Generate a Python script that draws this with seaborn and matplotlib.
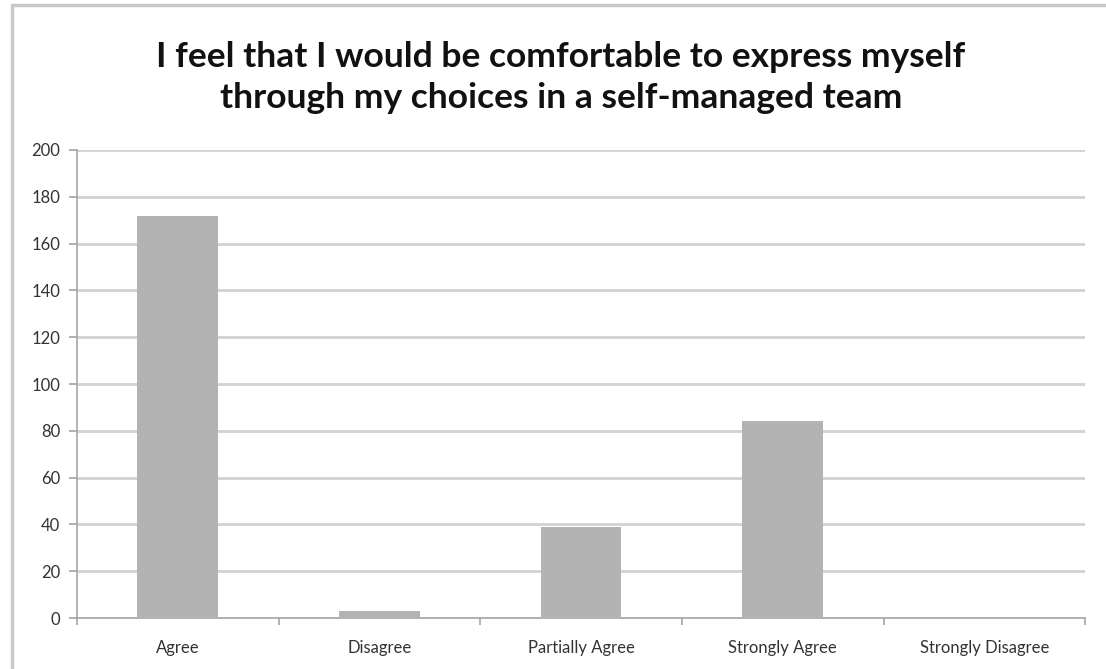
import matplotlib
matplotlib.use("Agg")
import matplotlib.pyplot as plt
from matplotlib.patches import Rectangle
import seaborn as sns
import pandas as pd

categories = ["Agree", "Disagree", "Partially Agree", "Strongly Agree", "Strongly Disagree"]
counts = [172, 3, 39, 84, 0]
y_ticks = [0, 20, 40, 60, 80, 100, 120, 140, 160, 180, 200]
title = "I feel that I would be comfortable to express myself\nthrough my choices in a self-managed team"

sns.set_theme(style="white")
plt.rcParams["font.family"] = ["Lato", "DejaVu Sans"]

df = pd.DataFrame({"response": categories, "count": counts})

fig = plt.figure(figsize=(11.06, 6.69), dpi=100)
ax = fig.add_axes([0.0696, 0.0762, 0.9116, 0.6996])

# light frame around the chart (its right and bottom edges run past the canvas)
fig.patches.append(Rectangle((0.0105, -0.05), 1.1, 1.042, transform=fig.transFigure,
                             fill=False, edgecolor="#c9c9c9", linewidth=2.5, zorder=0))

sns.barplot(data=df, x="response", y="count", color="#b3b3b3", saturation=1,
            width=0.4, linewidth=0, ax=ax, zorder=3)

ax.set_ylim(0, 200)
ax.set_xlim(-0.5, len(categories) - 0.5)
ax.set_yticks(y_ticks)
ax.yaxis.grid(True, color="#d2d2d2", linewidth=2)
ax.xaxis.grid(False)
ax.set_axisbelow(True)
ax.set_xlabel("")
ax.set_ylabel("")

for side in ["top", "right"]:
    ax.spines[side].set_visible(False)
for side in ["left", "bottom"]:
    ax.spines[side].set_color("#a6a6a6")
    ax.spines[side].set_linewidth(1.2)

ax.tick_params(axis="y", which="major", left=True, length=6, color="#a6a6a6",
               labelsize=12, labelcolor="#333333", pad=6)
ax.tick_params(axis="x", which="major", bottom=False, labelsize=12,
               labelcolor="#333333", pad=10)
ax.set_xticks([i + 0.5 for i in range(-1, len(categories))], minor=True)
ax.tick_params(axis="x", which="minor", bottom=True, length=5, color="#a6a6a6", width=1.2)

fig.text(0.507, 0.884, title, ha="center", va="center", fontsize=25.5,
         fontweight="bold", color="#111111", linespacing=1.32)

fig.savefig("out.png", dpi=100, facecolor="white")
